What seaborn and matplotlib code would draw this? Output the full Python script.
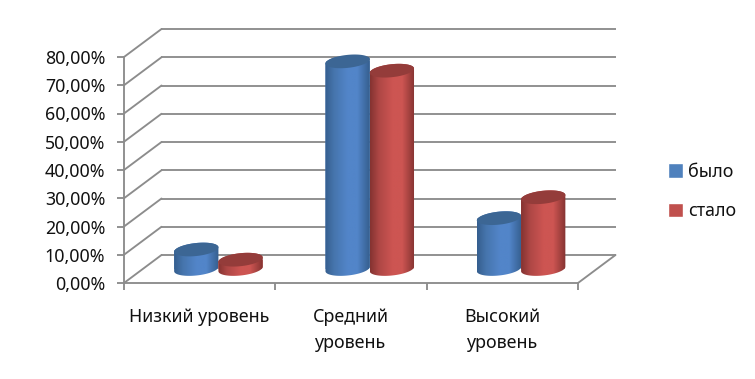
import numpy as np
import pandas as pd
import matplotlib
matplotlib.use("Agg")
import matplotlib.pyplot as plt
from matplotlib.path import Path
from matplotlib.patches import PathPatch
from matplotlib.colors import LinearSegmentedColormap
import seaborn as sns

categories = ["Низкий уровень", "Средний\nуровень", "Высокий\nуровень"]
series_names = ["было", "стало"]
bylo = [6.9, 73.5, 18.0]
stalo = [3.3, 70.2, 25.4]
y_ticks = [0, 10, 20, 30, 40, 50, 60, 70, 80]
y_tick_labels = ["0,00%", "10,00%", "20,00%", "30,00%", "40,00%", "50,00%", "60,00%", "70,00%", "80,00%"]
colors = ["#4F81BD", "#C0504D"]
edge_colors = ["#355E8E", "#843331"]
near_colors = ["#4675AD", "#AE4745"]
mid_colors = ["#5285C9", "#CD5552"]
top_colors = ["#3C6694", "#943C3A"]

W, H = 755, 379
sns.set_theme(style="white")
plt.rcParams["font.family"] = ["Noto Sans", "DejaVu Sans"]
GRID = "#8C8C8C"
TEXT = "#111111"
FS = 12.85

fig = plt.figure(figsize=(W / 100, H / 100), dpi=100, facecolor="white")
ax = fig.add_axes([124 / W, 1 - 283 / H, (578 - 124) / W, (283 - 57) / H])

df = pd.DataFrame({
    "cat": categories * 2,
    "s": [series_names[0]] * 3 + [series_names[1]] * 3,
    "v": bylo + stalo,
})
sns.barplot(data=df, x="cat", y="v", hue="s", palette=colors, width=0.585, gap=0,
            saturation=1, ax=ax, legend=True, errorbar=None)

ax.set_xlim(-0.5, 2.5)
ax.set_ylim(0, 80)
px_x = 3 / (578 - 124)          # data units per pixel, x
px_y = 80 / (283 - 57)          # data units per pixel, y
depth_x, depth_y = 37.5 * px_x, 28 * px_y
mid_x, mid_y = depth_x / 2, depth_y / 2

# walls and floor
for v in y_ticks:
    ax.plot([-0.5 + depth_x, 2.5 + depth_x], [v + depth_y, v + depth_y], color=GRID, lw=1.35,
            clip_on=False, zorder=1, solid_capstyle="butt")
    ax.plot([-0.5, -0.5 + depth_x], [v, v + depth_y], color=GRID, lw=1.35, clip_on=False, zorder=1)
ax.plot([2.5, 2.5 + depth_x], [0, depth_y], color=GRID, lw=1.35, clip_on=False, zorder=1)

# cylinders built from the bars that seaborn drew
semi_h = 6.5 * px_y
tilt = 2.2 * px_y
t = np.linspace(0, 2 * np.pi, 121)

def rim(cx, hw, base, tt):
    return cx + hw * np.cos(tt), base + semi_h * np.sin(tt) + tilt * np.cos(tt)

n_cat = len(categories)
for i, p in enumerate(ax.patches[:2 * n_cat]):
    s = i // n_cat
    hw = p.get_width() / 2
    cx = p.get_x() + hw + mid_x
    val = p.get_height()
    p.set_x(p.get_x() + mid_x)
    p.set_y(mid_y)
    z = 3 + s
    p.set_zorder(z)
    p.set_linewidth(0)
    lo = np.linspace(np.pi, 2 * np.pi, 60)
    hi = np.linspace(0, np.pi, 60)
    bx, by = rim(cx, hw, mid_y, lo)
    tx, ty = rim(cx, hw, mid_y + val, hi)
    verts = np.column_stack([np.r_[bx, tx], np.r_[by, ty]])
    verts = np.vstack([verts, verts[0]])
    body = Path(verts, closed=False)
    cmap = LinearSegmentedColormap.from_list(
        "c", [(0, edge_colors[s]), (0.2, near_colors[s]), (0.5, mid_colors[s]), (0.72, mid_colors[s]),
              (1, edge_colors[s])])
    im = ax.imshow(np.linspace(0, 1, 128)[None, :], cmap=cmap, aspect="auto", interpolation="bilinear",
                   extent=[cx - hw, cx + hw, mid_y - 4, mid_y + val + 4], zorder=z + 0.1)
    im.set_clip_path(body, transform=ax.transData)
    im.set_clip_on(True)
    p.set_clip_path(body, transform=ax.transData)
    ex, ey = rim(cx, hw, mid_y + val, t)
    ax.add_patch(PathPatch(Path(np.column_stack([ex, ey])), facecolor=top_colors[s], edgecolor="none",
                           zorder=z + 0.2, clip_on=False))

ax.set_xlim(-0.5, 2.5)
ax.set_ylim(0, 80)

sns.despine(ax=ax, top=True, right=True)
for name in ("left", "bottom"):
    ax.spines[name].set_color(GRID)
    ax.spines[name].set_linewidth(1.35)
ax.set_xlabel("")
ax.set_ylabel("")
ax.set_yticks(y_ticks, y_tick_labels)
ax.set_xticks(range(n_cat), categories)
ax.set_xticks([-0.5, 0.5, 1.5, 2.5], minor=True)
ax.tick_params(axis="x", which="major", length=0, pad=18, labelsize=FS, labelcolor=TEXT)
ax.tick_params(axis="x", which="minor", length=5, width=1.35, color=GRID, bottom=True)
ax.tick_params(axis="y", length=5, width=1.35, color=GRID, pad=8.5, labelsize=FS, labelcolor=TEXT, left=True)
for lab in ax.get_xticklabels():
    lab.set_linespacing(1.55)
    lab.set_verticalalignment("top")

handles, labels = ax.get_legend_handles_labels()
ax.legend(handles, labels, loc="upper left", bbox_to_anchor=(664 / W, 1 - 159 / H),
          bbox_transform=fig.transFigure, frameon=False, fontsize=FS, handlelength=0.85,
          handleheight=0.85, handletextpad=0.3, labelspacing=1.2, labelcolor=TEXT,
          borderpad=0.2, borderaxespad=0)

fig.savefig("out.png", dpi=100, facecolor="white")
